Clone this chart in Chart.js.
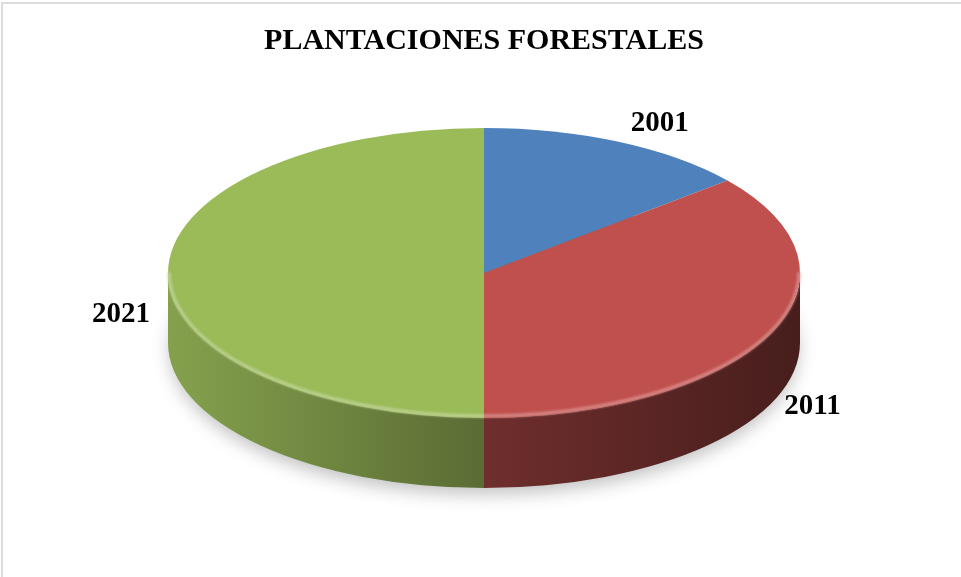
<!DOCTYPE html>
<html lang="es">
<head>
<meta charset="utf-8">
<title>Plantaciones forestales</title>
<script src="https://cdn.jsdelivr.net/npm/chart.js@4.4.1/dist/chart.umd.min.js"></script>
<style>
  html, body { margin: 0; padding: 0; background: #fff; overflow: hidden; }
  #wrap { width: 961px; height: 577px; position: relative; }
</style>
</head>
<body>
<div id="wrap"><canvas id="forestChart" width="961" height="577"></canvas></div>
<script>
// Plantaciones forestales por año (porcentaje del total)
const years = ['2001', '2011', '2021'];
const shares = [14, 36, 50];
const sliceColors = ['#4F81BD', '#C0504D', '#9BBB59'];

const serif = "'Liberation Serif', 'Times New Roman', serif";

function shade(hex, f) {
    const n = parseInt(hex.slice(1), 16);
    const r = Math.round(((n >> 16) & 255) * f);
    const g = Math.round(((n >> 8) & 255) * f);
    const b = Math.round((n & 255) * f);
    return `rgb(${r},${g},${b})`;
}

function tint(hex, t, a) {
    const n = parseInt(hex.slice(1), 16);
    const mix = c => Math.round(c + (255 - c) * t);
    return `rgba(${mix((n >> 16) & 255)},${mix((n >> 8) & 255)},${mix(n & 255)},${a})`;
}

// light grey frame on the top and left edges
const frame = {
    id: 'frame',
    beforeDraw(chart) {
        const ctx = chart.ctx;
        ctx.save();
        ctx.strokeStyle = '#dcdcdc';
        ctx.lineWidth = 2;
        ctx.beginPath();
        ctx.moveTo(2, chart.height + 5);
        ctx.lineTo(2, 3);
        ctx.lineTo(chart.width + 5, 3);
        ctx.stroke();
        ctx.restore();
    }
};

// tilted pie: side walls under the slices, slices squashed into an ellipse
const pie3d = {
    id: 'pie3d',
    beforeDatasetsDraw(chart, args, opts) {
        const ctx = chart.ctx;
        const arcs = chart.getDatasetMeta(0).data;
        const { x: cx, y: cy, outerRadius: r } = arcs[0];
        const ry = r * opts.tilt;
        const d = opts.depth;

        ctx.save();
        // soft shadow under the base
        ctx.shadowColor = 'rgba(0,0,0,0.25)';
        ctx.shadowBlur = 18;
        ctx.shadowOffsetY = 7;
        ctx.fillStyle = '#777';
        ctx.beginPath();
        ctx.ellipse(cx, cy + d, r - 2, ry - 1, 0, 0, Math.PI * 2);
        ctx.fill();
        ctx.restore();

        ctx.save();
        arcs.forEach((arc, i) => {
            const a0 = Math.max(arc.startAngle, 0);
            const a1 = Math.min(arc.endAngle, Math.PI);
            if (a1 <= a0) return;
            const base = sliceColors[i];
            const grad = ctx.createLinearGradient(cx - r, 0, cx + r, 0);
            grad.addColorStop(0, shade(base, 0.86));
            grad.addColorStop(0.5, shade(base, 0.58));
            grad.addColorStop(1, shade(base, 0.37));
            ctx.fillStyle = grad;
            ctx.beginPath();
            ctx.ellipse(cx, cy, r, ry, 0, a0, a1);
            ctx.lineTo(cx + r * Math.cos(a1), cy + ry * Math.sin(a1) + d);
            ctx.ellipse(cx, cy + d, r, ry, 0, a1, a0, true);
            ctx.closePath();
            ctx.fill();
        });
        ctx.restore();

        // squash the top face vertically around the pie centre
        ctx.save();
        ctx.translate(0, cy);
        ctx.scale(1, opts.tilt);
        ctx.translate(0, -cy);
    },
    afterDatasetsDraw(chart, args, opts) {
        const ctx = chart.ctx;
        ctx.restore();

        const arcs = chart.getDatasetMeta(0).data;
        const { x: cx, y: cy, outerRadius: r } = arcs[0];
        const ry = r * opts.tilt;
        const d = opts.depth;

        // bevel highlight along the front rim
        ctx.save();
        ctx.lineWidth = 3.5;
        ctx.filter = 'blur(1px)';
        arcs.forEach((arc, i) => {
            const a0 = Math.max(arc.startAngle, 0);
            const a1 = Math.min(arc.endAngle, Math.PI);
            if (a1 <= a0) return;
            ctx.strokeStyle = tint(sliceColors[i], 0.4, 0.75);
            ctx.beginPath();
            ctx.ellipse(cx, cy - 1, r - 1, ry - 1, 0, a0, a1);
            ctx.stroke();
        });
        ctx.restore();

        // year labels outside each slice
        ctx.save();
        ctx.font = `bold ${opts.labelSize}px ${serif}`;
        ctx.fillStyle = '#000';
        ctx.textAlign = 'center';
        ctx.textBaseline = 'middle';
        arcs.forEach((arc, i) => {
            const mid = (arc.startAngle + arc.endAngle) / 2;
            const c = Math.cos(mid), s = Math.sin(mid);
            const lx = cx + (r + opts.gapX) * c + opts.gapTop * c * Math.max(0, -s);
            const ly = cy + (ry + opts.gapY) * s + d * Math.min(0.9, Math.max(0, 0.6 + s));
            ctx.fillText(years[i], lx, ly);
        });
        ctx.restore();
    }
};

const ctx = document.getElementById('forestChart').getContext('2d');

new Chart(ctx, {
    type: 'pie',
    data: {
        labels: years,
        datasets: [{
            data: shares,
            backgroundColor: sliceColors,
            borderWidth: 0,
            clip: false
        }]
    },
    options: {
        responsive: false,
        animation: false,
        devicePixelRatio: 1,
        radius: 316,
        layout: { padding: { left: 7, right: 0, top: 0, bottom: 100 } },
        plugins: {
            legend: { display: false },
            tooltip: { enabled: false },
            title: {
                display: true,
                text: 'PLANTACIONES FORESTALES',
                color: '#000',
                font: { family: serif, size: 30, weight: 'bold' },
                padding: { top: 23, bottom: 10 }
            },
            pie3d: { tilt: 0.459, depth: 70, gapX: 47, gapY: 20, gapTop: 55, labelSize: 29 }
        }
    },
    plugins: [frame, pie3d]
});
</script>
</body>
</html>
